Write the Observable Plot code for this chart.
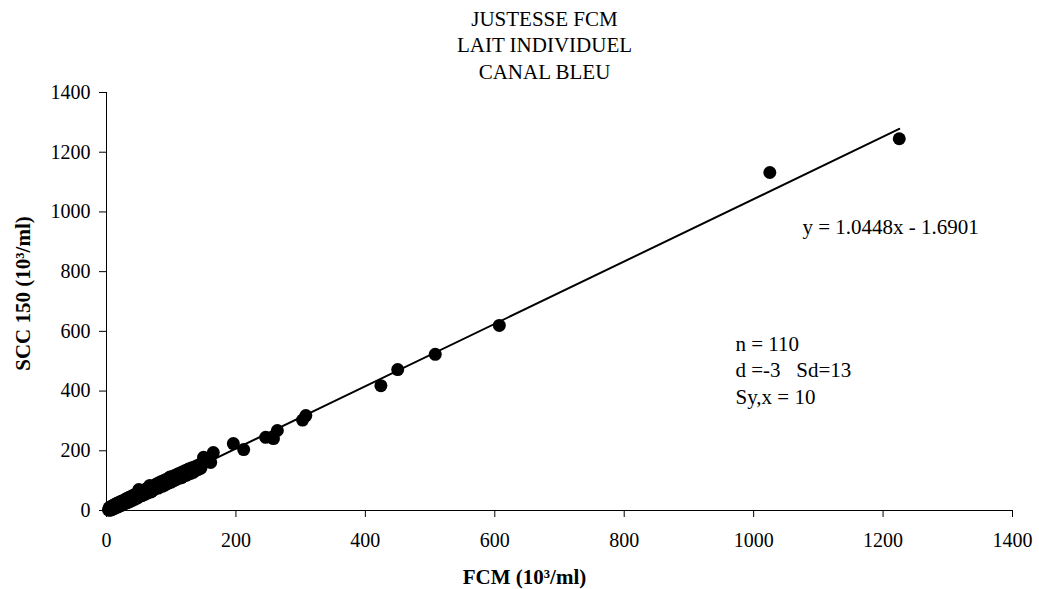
<!DOCTYPE html>
<html>
<head>
<meta charset="utf-8">
<script src="https://cdn.jsdelivr.net/npm/d3@7"></script>
<script src="https://cdn.jsdelivr.net/npm/@observablehq/plot@0.6"></script>
<style>
  html, body { margin: 0; padding: 0; background: #fff; }
  #chart svg { display: block; }
</style>
</head>
<body>
<div id="chart"></div>
<script>
// FCM (x) values, 10^3/ml
const fcm = [
  3, 4, 5, 6, 7, 8, 9, 10, 11, 12,
  13, 14, 15, 16, 18, 19, 20, 22, 23, 25,
  26, 28, 30, 31, 33, 35, 36, 38, 40, 42,
  44, 46, 48, 50, 50, 53, 55, 57, 59, 61,
  63, 65, 67, 69, 70, 72, 74, 76, 78, 80,
  82, 84, 86, 88, 90, 92, 94, 96, 98, 100,
  102, 104, 106, 108, 110, 112, 114, 116, 118, 120,
  122, 124, 126, 128, 130, 132, 134, 136, 138, 140,
  142, 144, 146, 148,
  17, 21, 27, 34, 45, 58, 75, 99, 115, 135,
  150, 161, 165, 196, 212, 246, 258, 264, 303, 308,
  424, 450, 508, 607, 1025, 1225
];
// SCC 150 (y) values, 10^3/ml
const scc = [
  2, 9, 1, 12, 2, 14, 4, 17, 6, 19,
  8, 21, 10, 24, 12, 27, 15, 30, 17, 33,
  20, 36, 24, 40, 27, 44, 30, 47, 34, 52,
  38, 56, 42, 60, 70, 49, 50, 67, 54, 72,
  58, 75, 84, 62, 78, 68, 71, 86, 90, 75,
  94, 96, 81, 100, 85, 104, 90, 108, 112, 95,
  114, 100, 118, 104, 122, 108, 126, 110, 130, 116,
  134, 118, 137, 140, 124, 143, 128, 146, 134, 150,
  138, 154, 142, 158,
  13, 23, 29, 36, 46, 62, 79, 104, 120, 141,
  178, 161, 194, 224, 204, 245, 241, 268, 303, 318,
  418, 472, 523, 620, 1132, 1245
];
const xTicks = [0, 200, 400, 600, 800, 1000, 1200, 1400];
const yTicks = [0, 200, 400, 600, 800, 1000, 1200, 1400];
const titleLines = ["JUSTESSE FCM", "LAIT INDIVIDUEL", "CANAL BLEU"];
const statLines = ["n = 110", "d =-3   Sd=13", "Sy,x = 10"];
const equationText = "y = 1.0448x - 1.6901";
const xLabel = "FCM (10³/ml)";
const yLabel = "SCC 150 (10³/ml)";
const slope = 1.0448, intercept = -1.6901;

const points = fcm.map((x, i) => ({x, y: scc[i]}));
const xExt = d3.extent(fcm);
const fitLine = xExt.map(x => ({x, y: slope * x + intercept}));

const font = "'Liberation Serif', 'Times New Roman', serif";

const chart = Plot.plot({
  width: 1039,
  height: 589,
  marginLeft: 106,
  marginRight: 27,
  marginTop: 92,
  marginBottom: 79,
  style: {fontFamily: font, fontSize: "20px", color: "#000", background: "#fff"},
  x: {domain: [0, 1400], ticks: xTicks},
  y: {domain: [0, 1400], ticks: yTicks},
  marks: [
    Plot.axisX({ticks: xTicks, tickSize: 7, tickPadding: 15, label: null, fontSize: 20, tickFormat: d => String(d)}),
    Plot.axisY({ticks: yTicks, tickSize: 7, tickPadding: 9, label: null, fontSize: 20, tickFormat: d => String(d)}),
    Plot.ruleY([0], {stroke: "#000", strokeWidth: 1}),
    Plot.ruleX([0], {stroke: "#000", strokeWidth: 1}),
    Plot.line(fitLine, {x: "x", y: "y", stroke: "#000", strokeWidth: 2}),
    Plot.dot(points, {x: "x", y: "y", r: 6.5, fill: "#000", stroke: "none"}),
    Plot.text([titleLines.join("\n")], {
      frameAnchor: "top", text: d => d, textAnchor: "middle",
      lineAnchor: "bottom", lineHeight: 1.26, dx: -15, dy: -14, fontSize: 21
    }),
    Plot.text([equationText], {
      frameAnchor: "top-left", text: d => d, textAnchor: "start",
      lineAnchor: "bottom", dx: 696, dy: 141, fontSize: 21
    }),
    Plot.text([statLines.join("\n")], {
      frameAnchor: "top-left", text: d => d, textAnchor: "start",
      lineAnchor: "bottom", lineHeight: 1.26, dx: 629, dy: 311, fontSize: 21
    }),
    Plot.text([xLabel], {
      frameAnchor: "bottom", text: d => d, textAnchor: "middle", lineAnchor: "bottom",
      dx: -35, dy: 73, fontWeight: "bold", fontSize: 21
    }),
    Plot.text([yLabel], {
      frameAnchor: "left", text: d => d, textAnchor: "middle", rotate: -90,
      dx: -83, dy: -8, fontWeight: "bold", fontSize: 21
    })
  ]
});

document.getElementById("chart").appendChild(chart);
</script>
</body>
</html>
